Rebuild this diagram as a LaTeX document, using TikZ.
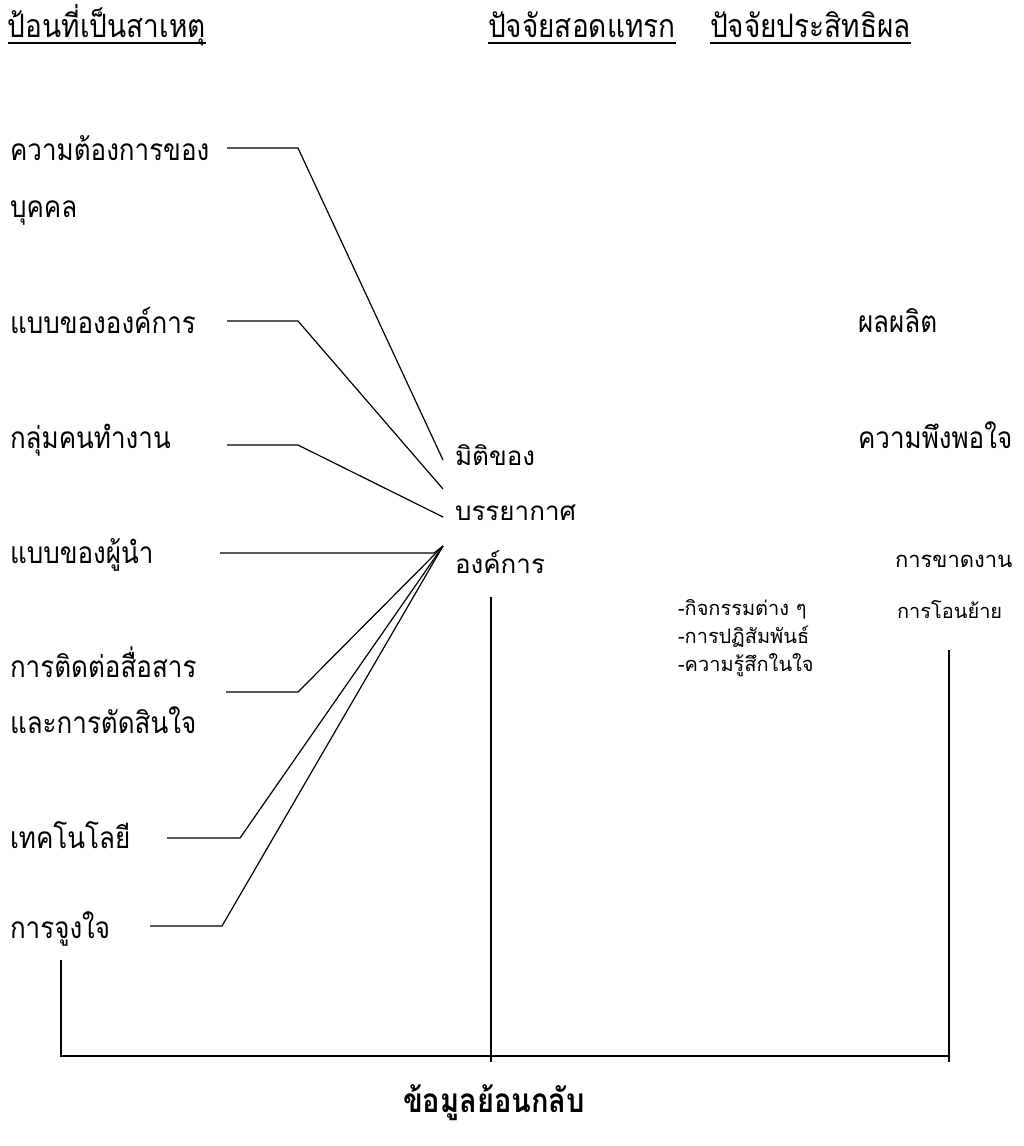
\documentclass[tikz,border=0pt]{standalone}
\usepackage{graphicx}
\usepackage{fontspec}
\newfontfamily\thaifont[Script=Thai]{Loma}
\usetikzlibrary{calc}
% tall narrow lettering for the headings, inputs and outcomes
\newcommand\tallt[1]{\scalebox{1}[1.15]{#1}}
\tikzset{
  every node/.style={inner sep=0pt, outer sep=0pt, anchor=base west},
  serif/.style={font=\thaifont\fontsize{26}{30}\selectfont},
  sans/.style={font=\thaifont\fontsize{26}{30}\selectfont},
  small/.style={font=\thaifont\fontsize{20}{23}\selectfont},
  head/.style={font=\thaifont\fontsize{28}{32}\selectfont},
  conn/.style={line width=1.2pt, line join=miter},
  uline/.style={line width=2pt}
}
\begin{document}
\begin{tikzpicture}[x=1pt,y=-1pt]
\useasboundingbox (0,0) rectangle (1023,1146);

% column headings
\node[head] (h1) at (8,37) {\tallt{ป้อนที่เป็นสาเหตุ}};
\node[head] (h2) at (488,37) {\tallt{ปัจจัยสอดแทรก}};
\node[head] (h3) at (710,37) {\tallt{ปัจจัยประสิทธิผล}};
\foreach \h in {h1,h2,h3}
  \draw[uline] ($(\h.base west)+(0,6)$) -- ($(\h.base east)+(0,6)$);

% causal inputs
\node[serif] (i1) at (10,160) {\tallt{ความต้องการของ}};
\node[serif] (i1b) at (10,217) {\tallt{บุคคล}};
\node[serif] (i2) at (10,333) {\tallt{แบบขององค์การ}};
\node[serif] (i3) at (10,448) {\tallt{กลุ่มคนทำงาน}};
\node[serif] (i4) at (10,563) {\tallt{แบบของผู้นำ}};
\node[serif] (i5) at (10,677) {\tallt{การติดต่อสื่อสาร}};
\node[serif] (i5b) at (10,733) {\tallt{และการตัดสินใจ}};
\node[serif] (i6) at (10,848) {\tallt{เทคโนโลยี}};
\node[serif] (i7) at (10,938) {\tallt{การจูงใจ}};

% climate dimensions
\node[sans] (m1) at (455,465) {มิติของ};
\node[sans] (m2) at (455,520) {บรรยากาศ};
\node[sans] (m3) at (455,573) {องค์การ};

% intervening factors
\node[small] (v1) at (678,615) {-กิจกรรมต่าง ๆ};
\node[small] (v2) at (678,643) {-การปฏิสัมพันธ์};
\node[small] (v3) at (678,671) {-ความรู้สึกในใจ};

% outcomes
\node[serif] (o1) at (858,332) {\tallt{ผลผลิต}};
\node[serif] (o2) at (858,448) {\tallt{ความพึงพอใจ}};
\node[font=\thaifont\fontsize{22}{25}\selectfont] (o3) at (895,567) {การขาดงาน};
\node[small] (o4) at (897,618) {การโอนย้าย};

% feedback
\node[font=\thaifont\bfseries\fontsize{29}{33}\selectfont, anchor=base] (fb) at (494,1112) {\tallt{ข้อมูลย้อนกลับ}};

% connector points
\coordinate (hub) at (443,546);
\coordinate (e1) at (443,460);
\coordinate (e2) at (443,489);
\coordinate (e3) at (443,517);
\coordinate (a1) at (227,148); \coordinate (b1) at (298,148);
\coordinate (a2) at (227,321); \coordinate (b2) at (298,321);
\coordinate (a3) at (227,445); \coordinate (b3) at (298,445);
\coordinate (a4) at (220,553); \coordinate (b4) at (434,553);
\coordinate (a5) at (226,692); \coordinate (b5) at (298,692);
\coordinate (a6) at (167,838); \coordinate (b6) at (240,838);
\coordinate (a7) at (150,926); \coordinate (b7) at (222,926);

\draw[conn] (a1) -- (b1) -- (e1);
\draw[conn] (a2) -- (b2) -- (e2);
\draw[conn] (a3) -- (b3) -- (e3);
\draw[conn] (a4) -- (b4) -- (hub);
\draw[conn] (a5) -- (b5) -- (hub);
\draw[conn] (a6) -- (b6) -- (hub);
\draw[conn] (a7) -- (b7) -- (hub);

% feedback loop
\coordinate (fl) at (61,960);
\coordinate (fm) at (491,597);
\coordinate (fr) at (949,650);
\coordinate (bl) at (61,1056);
\coordinate (br) at (949,1056);
\draw[conn] (fl) -- (bl) -- (br);
\draw[conn] (fm) -- (491,1062);
\draw[conn] (fr) -- (949,1062);
\end{tikzpicture}
\end{document}
